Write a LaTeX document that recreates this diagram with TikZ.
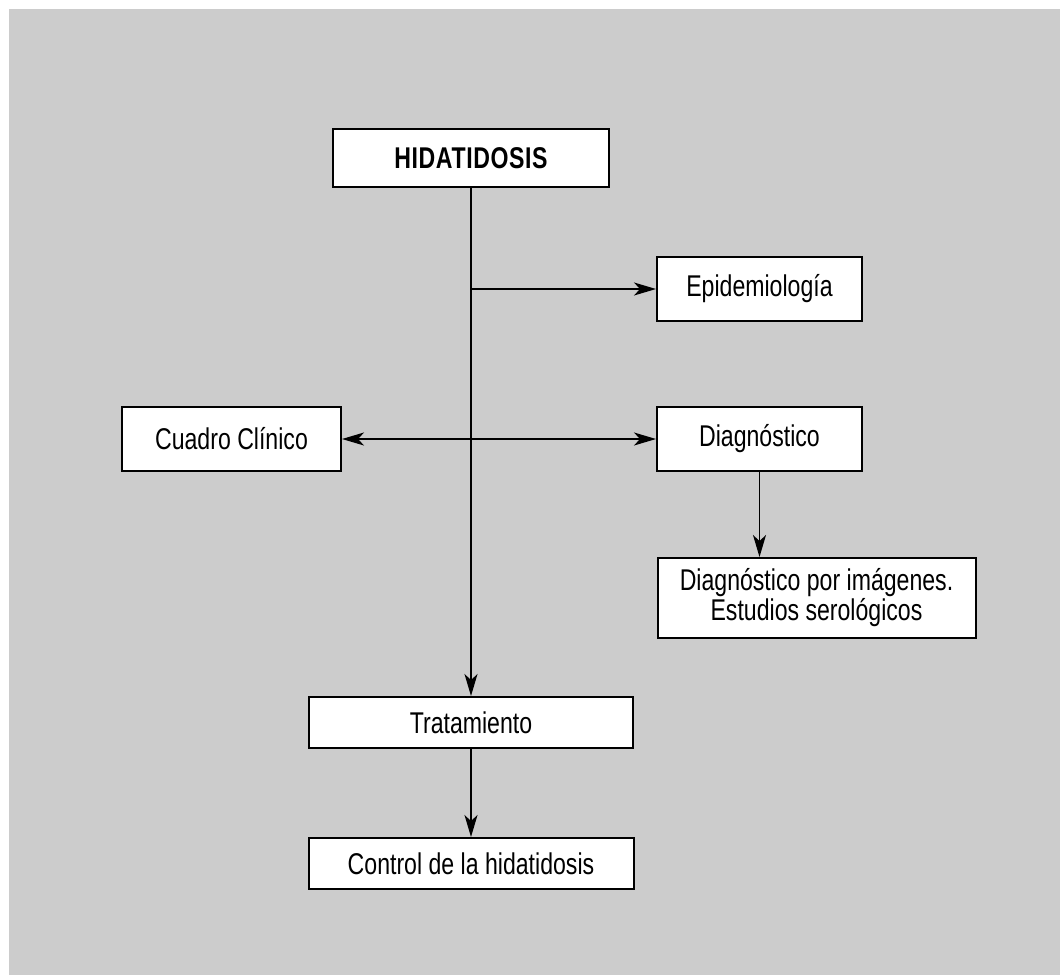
\documentclass[tikz,border=0pt]{standalone}
\usepackage{fontspec}
\setmainfont[FakeStretch=0.77]{Liberation Sans}
\usetikzlibrary{arrows.meta}
\definecolor{bggray}{HTML}{CCCCCC}
\begin{document}
\begin{tikzpicture}[x=1pt,y=-1pt,
  box/.style={draw=black,line width=2pt,fill=white,rectangle,inner sep=0pt,
    font=\fontsize{30}{30}\selectfont,align=center},
  tip/.style={},
  conn/.style={line width=1.4pt,-{Stealth[length=22pt,width=13pt,inset=6pt]}},
  dconn/.style={line width=1.4pt,{Stealth[length=22pt,width=13pt,inset=6pt]}-{Stealth[length=22pt,width=13pt,inset=6pt]}}]
\useasboundingbox (0,0) rectangle (1060,975);
\fill[white] (0,0) rectangle (1060,975);
\fill[bggray] (9,9) rectangle (1060,975);
\node[box,minimum width=276pt,minimum height=58pt] (hid) at (471,158) {\addfontfeature{LetterSpace=2}\bfseries HIDATIDOSIS};
\node[box,minimum width=205pt,minimum height=64pt] (epi) at (759.5,289) {Epidemiología};
\node[box,minimum width=219pt,minimum height=64pt] (cua) at (231.5,439) {Cuadro Clínico};
\node[box,minimum width=205pt,minimum height=64pt] (dia) at (759.5,439) {Diagnóstico};
\node[box,minimum width=318pt,minimum height=80pt] (img) at (816.5,598) {Diagnóstico por imágenes.\\Estudios serológicos};
\node[box,minimum width=324pt,minimum height=51pt] (tra) at (471,722.5) {Tratamiento};
\node[box,minimum width=325pt,minimum height=51pt] (con) at (471,863.5) {Control de la hidatidosis};
\coordinate (j1) at (hid.south |- epi.west);
\draw[conn] (hid.south) -- (tra.north);
\draw[conn] (j1) -- (epi.west);
\draw[dconn] (cua.east) -- (dia.west);
\draw[conn] (dia.south) -- (dia.south |- img.north);
\draw[conn] (tra.south) -- (con.north);
\end{tikzpicture}
\end{document}
